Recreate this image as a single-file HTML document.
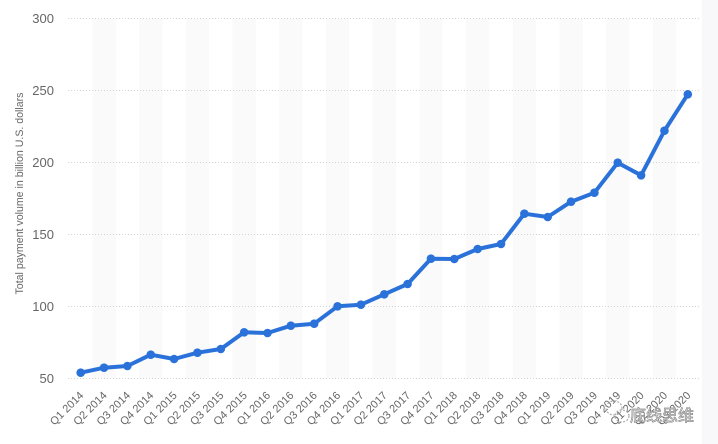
<!DOCTYPE html>
<html><head><meta charset="utf-8"><style>
html,body{margin:0;padding:0;background:#fff;}
svg{display:block;}
</style></head><body>
<svg width="718" height="444" viewBox="0 0 718 444" xmlns="http://www.w3.org/2000/svg" font-family="Liberation Sans, Noto Sans CJK SC, sans-serif">
<rect x="0" y="0" width="718" height="444" fill="#fff"/>
<rect x="702" y="0" width="16" height="444" fill="#f8f8fa"/>
<g fill="#fafafa">
<rect x="92.4" y="19" width="23.35" height="359"/>
<rect x="139.1" y="19" width="23.35" height="359"/>
<rect x="185.8" y="19" width="23.35" height="359"/>
<rect x="232.5" y="19" width="23.35" height="359"/>
<rect x="279.2" y="19" width="23.35" height="359"/>
<rect x="325.9" y="19" width="23.35" height="359"/>
<rect x="372.6" y="19" width="23.35" height="359"/>
<rect x="419.3" y="19" width="23.35" height="359"/>
<rect x="466.0" y="19" width="23.35" height="359"/>
<rect x="512.7" y="19" width="23.35" height="359"/>
<rect x="559.4" y="19" width="23.35" height="359"/>
<rect x="606.1" y="19" width="23.35" height="359"/>
<rect x="652.8" y="19" width="23.35" height="359"/>
</g>
<g stroke="#c6c6c6" stroke-width="0.8" stroke-dasharray="1,2" fill="none">
<line x1="68" y1="18.5" x2="700" y2="18.5"/>
<line x1="68" y1="90.5" x2="700" y2="90.5"/>
<line x1="68" y1="162.5" x2="700" y2="162.5"/>
<line x1="68" y1="234.5" x2="700" y2="234.5"/>
<line x1="68" y1="306.5" x2="700" y2="306.5"/>
<line x1="68" y1="378.5" x2="700" y2="378.5"/>
</g>
<g fill="#666" font-size="13" text-anchor="end">
<text x="54" y="23">300</text>
<text x="54" y="95">250</text>
<text x="54" y="167">200</text>
<text x="54" y="239">150</text>
<text x="54" y="311">100</text>
<text x="54" y="383">50</text>
</g>
<text transform="translate(23,193.5) rotate(-90)" text-anchor="middle" font-size="10.6" fill="#666">Total payment volume in billion U.S. dollars</text>
<polyline fill="none" stroke="#2a72d9" stroke-width="4" stroke-linejoin="round" stroke-linecap="round" points="80.7,372.7 104.05,367.7 127.4,366 150.75,354.7 174.1,359 197.45,352.7 220.8,349 244.15,332.3 267.5,333 290.85,325.7 314.2,323.7 337.55,306.3 360.9,304.7 384.25,294.3 407.6,284 430.95,258.7 454.3,259 477.65,249 501,244 524.35,213.7 547.7,217 571.05,201.7 594.4,192.7 617.75,162.7 641.1,175.3 664.45,130.7 687.8,94.3"/>
<g fill="#2a72d9">
<circle cx="80.7" cy="372.7" r="4.3"/><circle cx="104.05" cy="367.7" r="4.3"/><circle cx="127.4" cy="366" r="4.3"/><circle cx="150.75" cy="354.7" r="4.3"/><circle cx="174.1" cy="359" r="4.3"/><circle cx="197.45" cy="352.7" r="4.3"/><circle cx="220.8" cy="349" r="4.3"/><circle cx="244.15" cy="332.3" r="4.3"/><circle cx="267.5" cy="333" r="4.3"/><circle cx="290.85" cy="325.7" r="4.3"/><circle cx="314.2" cy="323.7" r="4.3"/><circle cx="337.55" cy="306.3" r="4.3"/><circle cx="360.9" cy="304.7" r="4.3"/><circle cx="384.25" cy="294.3" r="4.3"/><circle cx="407.6" cy="284" r="4.3"/><circle cx="430.95" cy="258.7" r="4.3"/><circle cx="454.3" cy="259" r="4.3"/><circle cx="477.65" cy="249" r="4.3"/><circle cx="501" cy="244" r="4.3"/><circle cx="524.35" cy="213.7" r="4.3"/><circle cx="547.7" cy="217" r="4.3"/><circle cx="571.05" cy="201.7" r="4.3"/><circle cx="594.4" cy="192.7" r="4.3"/><circle cx="617.75" cy="162.7" r="4.3"/><circle cx="641.1" cy="175.3" r="4.3"/><circle cx="664.45" cy="130.7" r="4.3"/><circle cx="687.8" cy="94.3" r="4.3"/>
</g>
<g fill="#666" font-size="11" text-anchor="end">
<text transform="translate(84.2,396) rotate(-45)">Q1 2014</text>
<text transform="translate(107.55,396) rotate(-45)">Q2 2014</text>
<text transform="translate(130.9,396) rotate(-45)">Q3 2014</text>
<text transform="translate(154.25,396) rotate(-45)">Q4 2014</text>
<text transform="translate(177.6,396) rotate(-45)">Q1 2015</text>
<text transform="translate(200.95,396) rotate(-45)">Q2 2015</text>
<text transform="translate(224.3,396) rotate(-45)">Q3 2015</text>
<text transform="translate(247.65,396) rotate(-45)">Q4 2015</text>
<text transform="translate(271,396) rotate(-45)">Q1 2016</text>
<text transform="translate(294.35,396) rotate(-45)">Q2 2016</text>
<text transform="translate(317.7,396) rotate(-45)">Q3 2016</text>
<text transform="translate(341.05,396) rotate(-45)">Q4 2016</text>
<text transform="translate(364.4,396) rotate(-45)">Q1 2017</text>
<text transform="translate(387.75,396) rotate(-45)">Q2 2017</text>
<text transform="translate(411.1,396) rotate(-45)">Q3 2017</text>
<text transform="translate(434.45,396) rotate(-45)">Q4 2017</text>
<text transform="translate(457.8,396) rotate(-45)">Q1 2018</text>
<text transform="translate(481.15,396) rotate(-45)">Q2 2018</text>
<text transform="translate(504.5,396) rotate(-45)">Q3 2018</text>
<text transform="translate(527.85,396) rotate(-45)">Q4 2018</text>
<text transform="translate(551.2,396) rotate(-45)">Q1 2019</text>
<text transform="translate(574.55,396) rotate(-45)">Q2 2019</text>
<text transform="translate(597.9,396) rotate(-45)">Q3 2019</text>
<text transform="translate(621.25,396) rotate(-45)">Q4 2019</text>
<text transform="translate(644.6,396) rotate(-45)">Q1 2020</text>
<text transform="translate(667.95,396) rotate(-45)">Q2 2020</text>
<text transform="translate(691.3,396) rotate(-45)">Q3 2020</text>
</g>
<g fill="none" stroke="#aaa" stroke-width="1.2" stroke-dasharray="2,1.5">
<ellipse cx="614" cy="408" rx="8" ry="7"/>
<ellipse cx="622" cy="416" rx="7" ry="6"/>
</g>
<text x="630" y="421" font-size="16" fill="#fff" stroke="#8a8a8a" stroke-width="0.7" font-family="Liberation Sans, Noto Sans CJK SC, sans-serif">底线思维</text>
</svg>
</body></html>
